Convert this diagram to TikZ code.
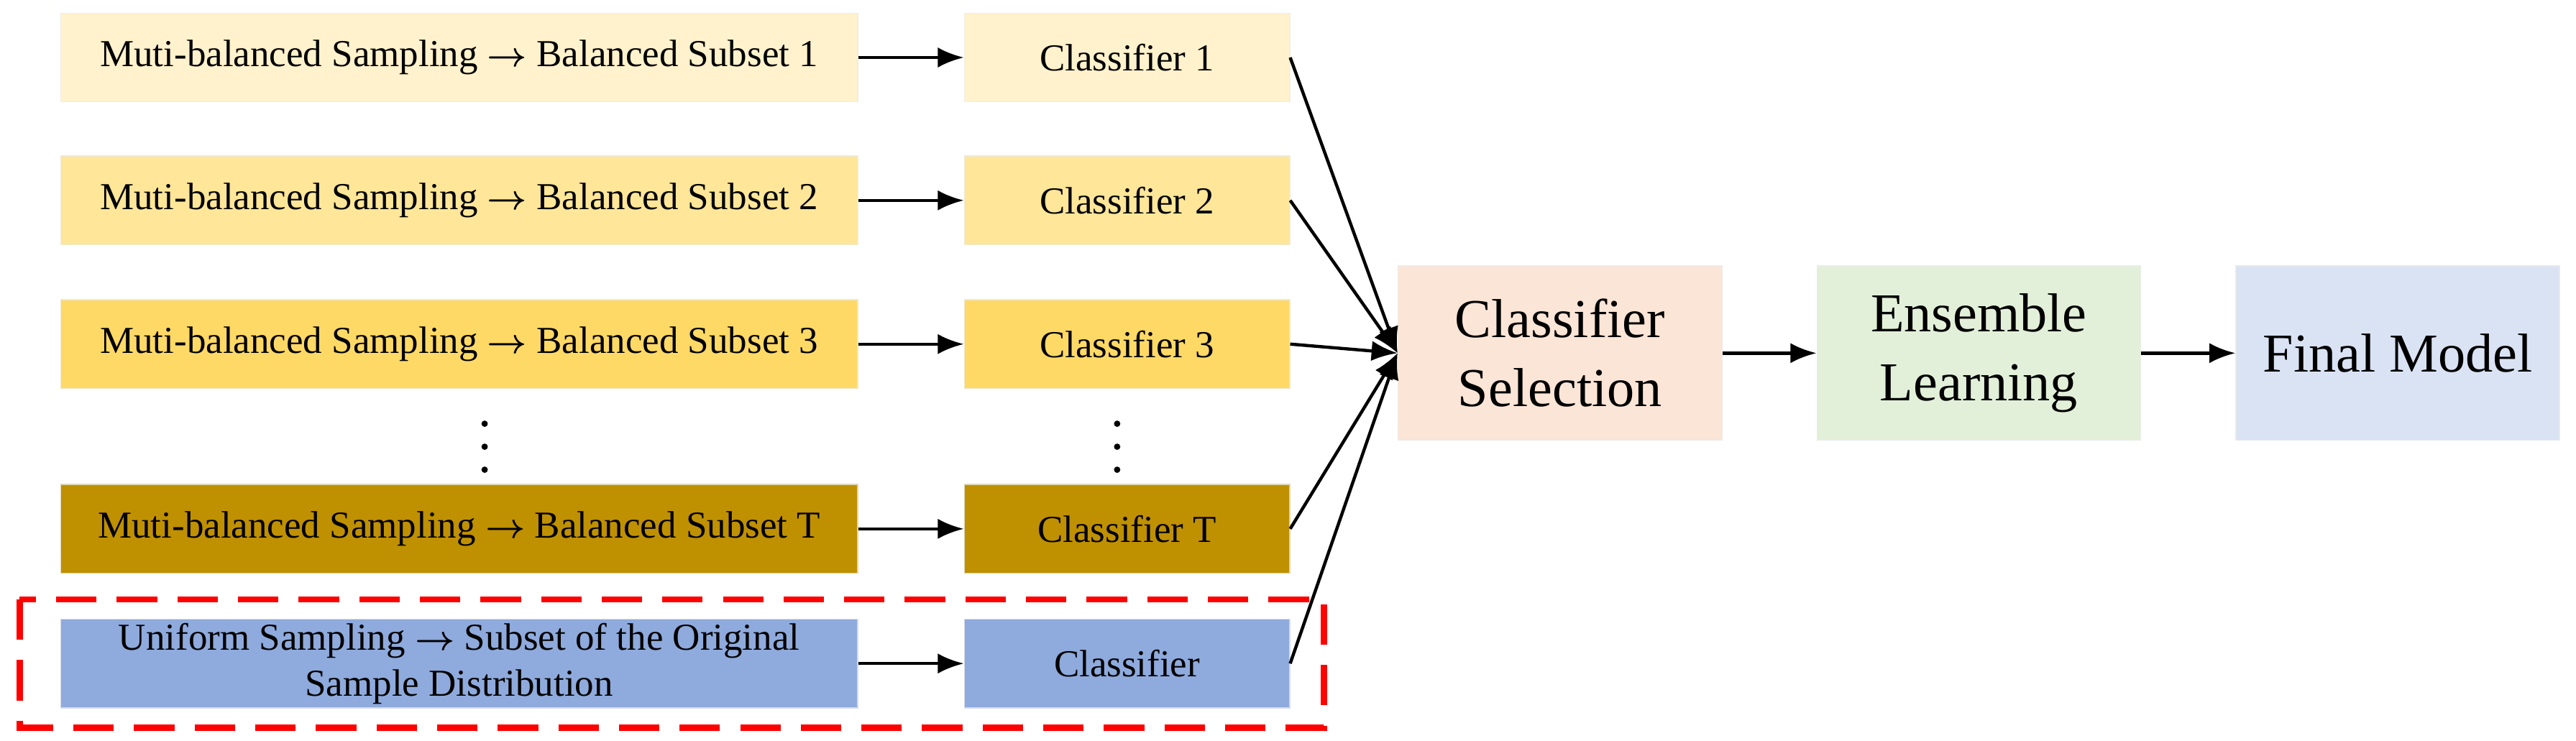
\documentclass[tikz,border=0pt]{standalone}
\usepackage{amsmath}
\usepackage{fontspec}
\setmainfont{Liberation Serif}
\usetikzlibrary{positioning, arrows.meta}
\definecolor{rowa}{HTML}{FFF2CC}
\definecolor{rowb}{HTML}{FFE699}
\definecolor{rowc}{HTML}{FFD966}
\definecolor{rowt}{HTML}{BF9000}
\definecolor{rowu}{HTML}{8FAADC}
\definecolor{selc}{HTML}{FBE5D6}
\definecolor{ensc}{HTML}{E2F0D9}
\definecolor{finc}{HTML}{DAE3F3}
\newcommand{\toarr}{$\boldsymbol{\rightarrow}$}
\tikzset{
    sample/.style={
        draw = #1!80!black!30, fill = #1,
        minimum width = 9.7cm, minimum height = 1.08cm,
        align = center, inner sep = 0pt,
        font = \fontsize{13.2}{16}\selectfont
    },
    clf/.style={sample = #1, minimum width = 3.96cm},
    stage/.style={
        draw = #1!80!black!30, fill = #1,
        minimum width = 3.94cm, minimum height = 2.12cm,
        align = center, inner sep = 0pt,
        font = \fontsize{19}{24}\selectfont
    },
    dot/.style = {circle, fill, inner sep = 0pt, minimum size = 2.2pt},
    line/.style = {-{Latex[length=9pt,width=7pt]}, line width=1.1pt}
}
\begin{document}
\begin{tikzpicture}[x=0.02cm, y=-0.02cm]
\useasboundingbox (0,0) rectangle (1568,451);

% sampling boxes
\node[sample=rowa] (s1) at (279.5,35) {Muti-balanced Sampling \toarr{} Balanced Subset 1};
\node[sample=rowb] (s2) at (279.5,122) {Muti-balanced Sampling \toarr{} Balanced Subset 2};
\node[sample=rowc] (s3) at (279.5,209.5) {Muti-balanced Sampling \toarr{} Balanced Subset 3};
\node[sample=rowt] (sT) at (279.5,322) {Muti-balanced Sampling \toarr{} Balanced Subset T};
\node[sample=rowu] (su) at (279.5,404) {Uniform Sampling \toarr{} Subset of the Original\\Sample Distribution};

% classifiers
\node[clf=rowa] (c1) at (686,35) {Classifier 1};
\node[clf=rowb] (c2) at (686,122) {Classifier 2};
\node[clf=rowc] (c3) at (686,209.5) {Classifier 3};
\node[clf=rowt] (cT) at (686,322) {Classifier T};
\node[clf=rowu] (cu) at (686,404) {Classifier};

% dots
\foreach \y in {258,272,286}{
    \node[dot] at (295,\y) {};
    \node[dot] at (680,\y) {};
}

% dashed frame
\draw[red, line width=2.2pt, dash pattern=on 14pt off 7pt] (12,365) rectangle (806,443);

% stages
\node[stage=selc] (sel) at (949.5,215) {Classifier\\Selection};
\node[stage=ensc] (ens) at (1204.5,215) {Ensemble\\Learning};
\node[stage=finc] (fin) at (1459.5,215) {Final Model};

% Lines
\foreach \r in {1,2,3,T,u}{
    \draw[line] (s\r) -- (c\r);
    \draw[line] (c\r.east) -- (sel.west);
}
\draw[line] (sel) -- (ens);
\draw[line] (ens) -- (fin);

\end{tikzpicture}
\end{document}
